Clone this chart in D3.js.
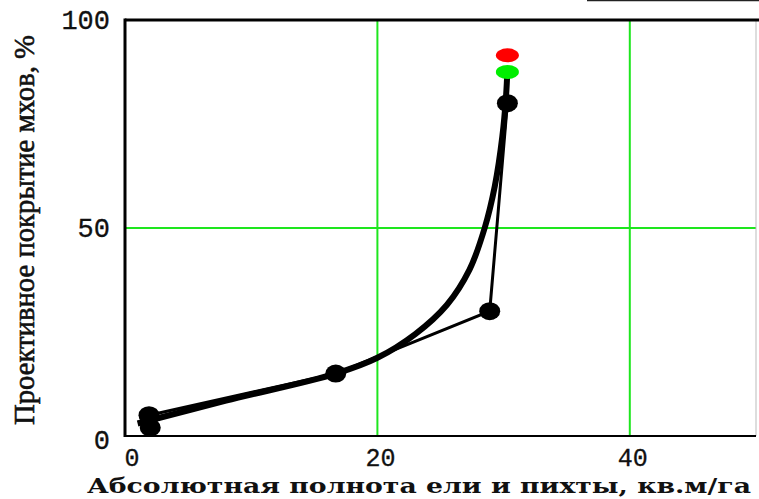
<!DOCTYPE html>
<html>
<head>
<meta charset="utf-8">
<script src="https://cdn.jsdelivr.net/npm/d3@7"></script>
<style>
  html, body { margin: 0; padding: 0; background: #fff; }
  svg { display: block; }
</style>
</head>
<body>
<svg id="chart" width="759" height="499"></svg>
<script>
// Observed plots: basal area of spruce and fir vs. moss cover
const obsX = [2.0, 1.9, 16.7, 28.9, 30.3];
const obsY = [2.0, 5.0, 15.0, 30.0, 80.0];

// Thin line joins the observations in order
const thinX = [1.9, 16.7, 28.9, 30.3, 30.3];
const thinY = [5.0, 15.0, 30.0, 80.0, 87.5];

// Fitted (smoothed) trend curve
const fitX = [1.0, 8.0, 16.7, 20.0, 23.0, 25.5, 27.3, 28.5, 29.3, 29.9, 30.2, 30.3];
const fitY = [3.0, 8.5, 15.0, 18.8, 24.5, 31.5, 40.0, 50.0, 60.0, 72.0, 82.0, 88.0];

// Highlighted end values
const redPoint = { x: 30.3, y: 91.5 };
const greenPoint = { x: 30.3, y: 87.5 };

const xTicks = [0, 20, 40];
const yTicks = [0, 50, 100];
const xTitle = "Абсолютная полнота ели и пихты, кв.м/га";
const yTitle = "Проективное покрытие мхов, %";

const svg = d3.select("#chart");
const plotLeft = 125, plotRight = 756, plotTop = 20, plotBottom = 436;

const x = d3.scaleLinear().domain([0, 50]).range([plotLeft, plotRight]);
const y = d3.scaleLinear().domain([0, 100]).range([plotBottom, plotTop]);

// Green grid lines
const gridX = [20, 40];
const gridY = [50];
svg.selectAll("line.gx").data(gridX).enter().append("line")
  .attr("x1", d => x(d)).attr("x2", d => x(d))
  .attr("y1", plotTop).attr("y2", plotBottom)
  .attr("stroke", "#1ee61e").attr("stroke-width", 2);
svg.selectAll("line.gy").data(gridY).enter().append("line")
  .attr("x1", plotLeft).attr("x2", plotRight)
  .attr("y1", d => y(d)).attr("y2", d => y(d))
  .attr("stroke", "#1ee61e").attr("stroke-width", 2);

// Plot frame
svg.append("line").attr("x1", plotRight).attr("x2", plotRight).attr("y1", plotTop).attr("y2", plotBottom)
  .attr("stroke", "#bbb").attr("stroke-width", 1);
svg.append("line").attr("x1", plotLeft).attr("x2", plotRight).attr("y1", plotBottom).attr("y2", plotBottom)
  .attr("stroke", "#000").attr("stroke-width", 2);
svg.append("line").attr("x1", plotLeft).attr("x2", 759).attr("y1", plotTop).attr("y2", plotTop)
  .attr("stroke", "#000").attr("stroke-width", 3);
svg.append("line").attr("x1", plotLeft).attr("x2", plotLeft).attr("y1", plotTop - 1.5).attr("y2", plotBottom + 1)
  .attr("stroke", "#000").attr("stroke-width", 3);

// Edge of the legend box above the plot
svg.append("line").attr("x1", 587).attr("x2", 759).attr("y1", 0.5).attr("y2", 0.5)
  .attr("stroke", "#222").attr("stroke-width", 1.5);

// Thick fitted curve
const fitData = fitX.map((v, i) => [v, fitY[i]]);
svg.append("path")
  .datum(fitData)
  .attr("fill", "none")
  .attr("stroke", "#000")
  .attr("stroke-width", 6)
  .attr("stroke-linejoin", "round")
  .attr("d", d3.line().x(d => x(d[0])).y(d => y(d[1])).curve(d3.curveCatmullRom.alpha(0.5)));

// Thin polyline
const thinData = thinX.map((v, i) => [v, thinY[i]]);
svg.append("path")
  .datum(thinData)
  .attr("fill", "none")
  .attr("stroke", "#000")
  .attr("stroke-width", 3)
  .attr("d", d3.line().x(d => x(d[0])).y(d => y(d[1])));

// Observation markers
const obs = obsX.map((v, i) => ({ x: v, y: obsY[i] }));
svg.selectAll("ellipse.obs").data(obs).enter().append("ellipse")
  .attr("cx", d => x(d.x)).attr("cy", d => y(d.y))
  .attr("rx", 10.5).attr("ry", 9)
  .attr("fill", "#000");

// Red and green end markers
svg.append("ellipse").attr("cx", x(greenPoint.x)).attr("cy", y(greenPoint.y))
  .attr("rx", 11.5).attr("ry", 7).attr("fill", "#00ee00");
svg.append("ellipse").attr("cx", x(redPoint.x)).attr("cy", y(redPoint.y))
  .attr("rx", 11.5).attr("ry", 7).attr("fill", "#ff0000");

// Tick labels
const tickFont = "'Liberation Mono', 'DejaVu Sans Mono', monospace";
svg.selectAll("text.yt").data(yTicks).enter().append("text")
  .attr("x", 110)
  .attr("y", d => y(d) + 9 + (d === 0 ? 4 : 0))
  .attr("text-anchor", "end")
  .attr("font-family", tickFont)
  .attr("font-size", 27)
  .attr("fill", "#111")
  .attr("stroke", "#111")
  .attr("stroke-width", 0.3)
  .text(d => d);
svg.selectAll("text.xt").data(xTicks).enter().append("text")
  .attr("x", d => x(d) + (d === 0 ? 7 : 3))
  .attr("y", 466)
  .attr("text-anchor", "middle")
  .attr("font-family", tickFont)
  .attr("font-size", 25)
  .attr("fill", "#111")
  .attr("stroke", "#111")
  .attr("stroke-width", 0.3)
  .text(d => d);

// Axis titles
svg.append("text")
  .attr("x", 87).attr("y", 493)
  .attr("font-family", "'DejaVu Serif', serif")
  .attr("font-weight", "bold")
  .attr("font-size", 21)
  .attr("textLength", 664)
  .attr("lengthAdjust", "spacingAndGlyphs")
  .attr("fill", "#111")
  .text(xTitle);

svg.append("text")
  .attr("transform", "translate(34,425) rotate(-90)")
  .attr("font-family", "'Liberation Serif', 'Times New Roman', serif")
  .attr("font-size", 30)
  .attr("textLength", 390)
  .attr("lengthAdjust", "spacingAndGlyphs")
  .attr("fill", "#111")
  .attr("stroke", "#111")
  .attr("stroke-width", 0.6)
  .text(yTitle);
</script>
</body>
</html>
